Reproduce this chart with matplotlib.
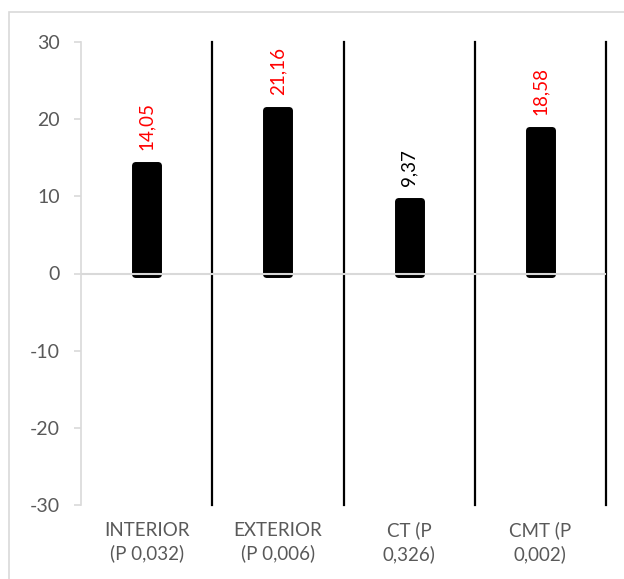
import numpy as np
import matplotlib.pyplot as plt
from matplotlib.patches import Rectangle

plt.rcParams['font.family'] = ['Lato', 'DejaVu Sans']
plt.rcParams['axes.unicode_minus'] = False

categorias = ['INTERIOR\n(P 0,032)', 'EXTERIOR\n(P 0,006)', 'CT (P\n0,326)', 'CMT (P\n0,002)']
valores = [14.05, 21.16, 9.37, 18.58]
rotulos = ['14,05', '21,16', '9,37', '18,58']
cores_rotulo = ['#ff0000', '#ff0000', '#000000', '#ff0000']

cinza_txt = '#595959'
cinza_linha = '#d9d9d9'

W, H = 624, 579
fig = plt.figure(figsize=(W / 100, H / 100), dpi=100)
ax = fig.add_axes([81 / W, 1 - 505 / H, (606 - 81) / W, (505 - 42) / H])

# borda externa do grafico (estilo excel)
fig.patches.append(Rectangle((9 / W, -0.1), 1.2, 1 - 12 / H + 0.1, transform=fig.transFigure,
                             fill=False, edgecolor=cinza_linha, lw=1.2))

x = np.arange(len(valores))
ax.bar(x, valores, width=0.176, color='black', edgecolor='black', lw=5,
       joinstyle='round', zorder=2)
ax.axhline(0, color=cinza_linha, lw=1.5, zorder=3)

# linhas separadoras entre categorias
for xs in x + 0.5:
    ax.plot([xs, xs], [-30, 30], color='black', lw=1.6, zorder=1, clip_on=False)

for xi, v, r, c in zip(x, valores, rotulos, cores_rotulo):
    ax.annotate(r, (xi, v), xytext=(0, 11), textcoords='offset points', rotation=90,
                ha='center', va='bottom', color=c, fontsize=13.5)

ax.set_xlim(-0.5, 3.5)
ax.set_ylim(-30, 30)
ax.set_yticks(np.arange(-30, 31, 10))
ax.set_xticks([])

for s in ['top', 'right', 'bottom']:
    ax.spines[s].set_visible(False)
ax.spines['left'].set_color(cinza_linha)
ax.spines['left'].set_linewidth(1.2)
ax.tick_params(axis='y', colors=cinza_linha, labelcolor=cinza_txt, labelsize=14,
               length=5, width=1.2, pad=10)

for xi, cat in zip(x, categorias):
    ax.annotate(cat, (xi, -30), xytext=(0, -12), textcoords='offset points',
                ha='center', va='top', fontsize=13.5, color=cinza_txt, linespacing=1.4)

plt.savefig('out.png', dpi=100)
plt.close()
